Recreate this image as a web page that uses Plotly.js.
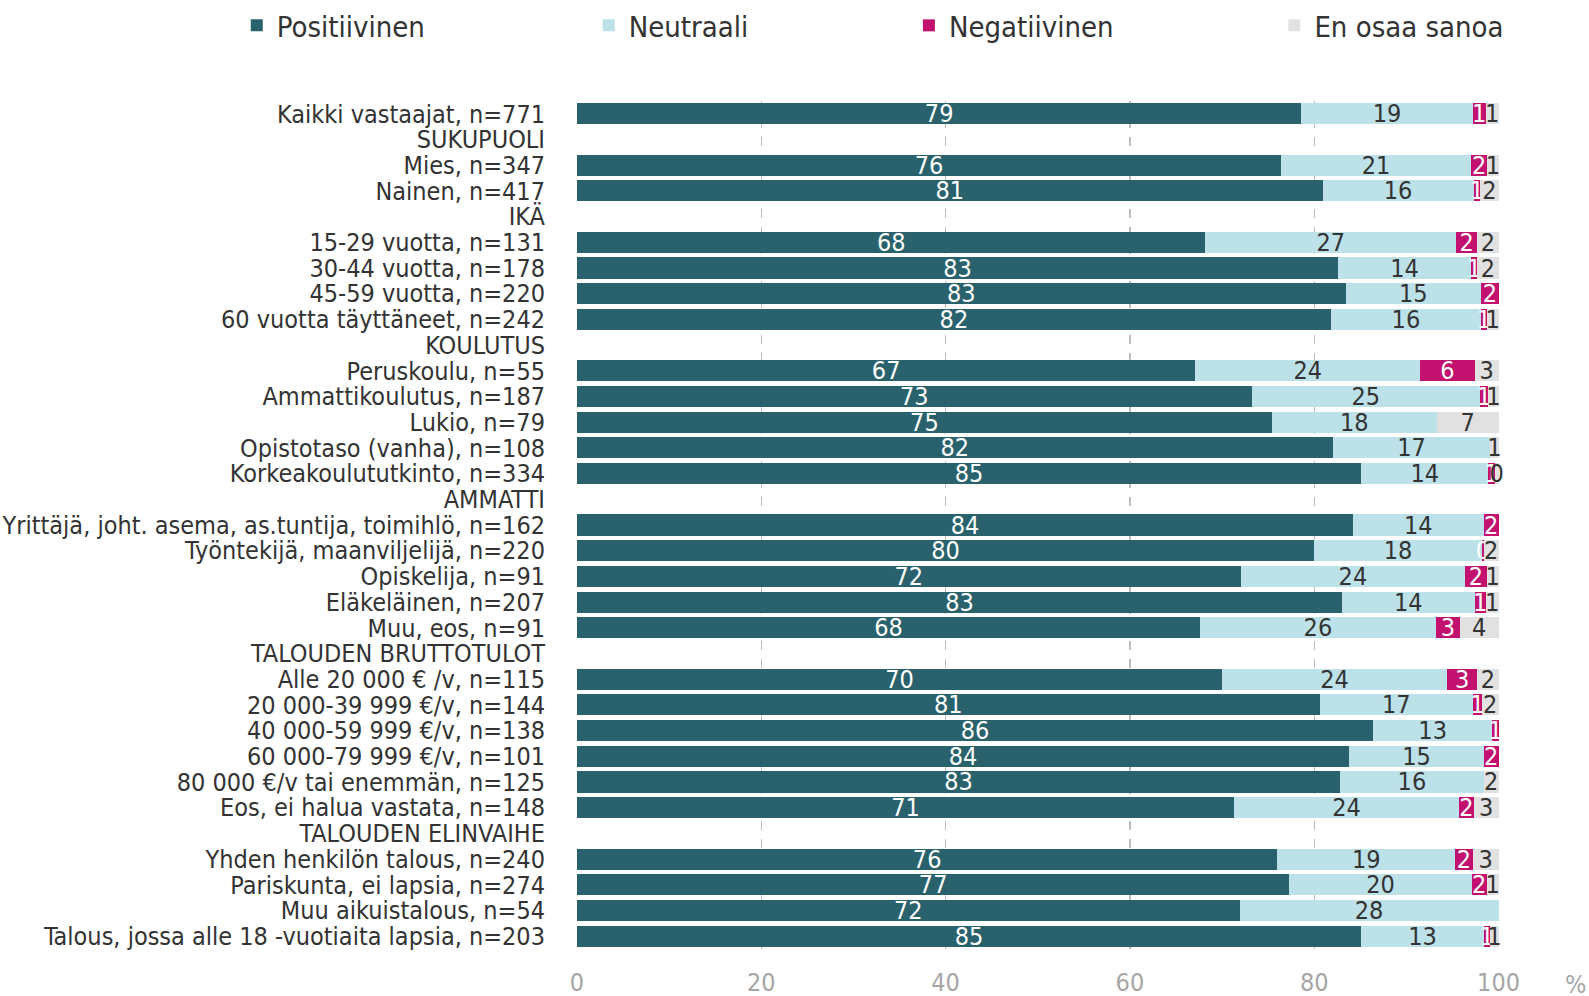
<!DOCTYPE html>
<html>
<head>
<meta charset="utf-8">
<script src="https://cdn.plot.ly/plotly-3.0.1.min.js"></script>
<style>html,body{margin:0;padding:0;background:#fff;}#chart{width:1589px;height:996px;}</style>
</head>
<body>
<div id="chart"></div>
<script>
const categories = [
  "Kaikki vastaajat, n=771",
  "SUKUPUOLI",
  "Mies, n=347",
  "Nainen, n=417",
  "IKÄ",
  "15-29 vuotta, n=131",
  "30-44 vuotta, n=178",
  "45-59 vuotta, n=220",
  "60 vuotta täyttäneet, n=242",
  "KOULUTUS",
  "Peruskoulu, n=55",
  "Ammattikoulutus, n=187",
  "Lukio, n=79",
  "Opistotaso (vanha), n=108",
  "Korkeakoulututkinto, n=334",
  "AMMATTI",
  "Yrittäjä, joht. asema, as.tuntija, toimihlö, n=162",
  "Työntekijä, maanviljelijä, n=220",
  "Opiskelija, n=91",
  "Eläkeläinen, n=207",
  "Muu, eos, n=91",
  "TALOUDEN BRUTTOTULOT",
  "Alle 20 000 € /v, n=115",
  "20 000-39 999 €/v, n=144",
  "40 000-59 999 €/v, n=138",
  "60 000-79 999 €/v, n=101",
  "80 000 €/v tai enemmän, n=125",
  "Eos, ei halua vastata, n=148",
  "TALOUDEN ELINVAIHE",
  "Yhden henkilön talous, n=240",
  "Pariskunta, ei lapsia, n=274",
  "Muu aikuistalous, n=54",
  "Talous, jossa alle 18 -vuotiaita lapsia, n=203"
];

const positiivinen = [78.6, null, 76.4, 80.9, null, 68.2, 82.6, 83.4, 81.8, null, 67.1, 73.2, 75.4, 82.0, 85.1, null, 84.2, 80.0, 72.0, 83.0, 67.6, null, 70.0, 80.6, 86.4, 83.8, 82.8, 71.3, null, 76.0, 77.3, 71.9, 85.1];
const neutraali    = [18.6, null, 20.6, 16.4, null, 27.2, 14.4, 14.7, 16.3, null, 24.4, 24.8, 17.9, 17.1, 13.8, null, 14.2, 18.2, 24.4, 14.4, 25.6, null, 24.4, 16.6, 12.9, 14.6, 15.6, 24.4, null, 19.3, 19.8, 28.1, 13.3];
const negatiivinen = [1.4, null, 1.8, 0.7, null, 2.3, 0.7, 1.9, 0.6, null, 5.9, 0.9, 0, 0, 0.7, null, 1.6, 0.2, 2.3, 1.2, 2.6, null, 3.3, 1.0, 0.7, 1.6, 0, 1.6, null, 1.9, 1.6, 0, 0.7];
const enOsaa       = [1.4, null, 1.2, 2.0, null, 2.3, 2.3, 0, 1.3, null, 2.6, 1.1, 6.7, 0.9, 0.4, null, 0, 1.6, 1.3, 1.4, 4.2, null, 2.3, 1.8, 0, 0, 1.6, 2.7, null, 2.8, 1.3, 0, 0.9];

const seriesNames = ["Positiivinen", "Neutraali", "Negatiivinen", "En osaa sanoa"];
const xTicks = [0, 20, 40, 60, 80, 100];

const colors = ["#29626d", "#bde1e9", "#c2116f", "#e1e1e1"];
const textColors = ["#ffffff", "#333333", "#ffffff", "#333333"];
const FONT = "'Liberation Sans Narrow', 'DejaVu Sans Condensed', 'Noto Sans', sans-serif";
const legendIds = ["legend", "legend2", "legend3", "legend4"];
const legendX = [0.1490, 0.3705, 0.5720, 0.8020];

function labels(arr) {
  return arr.map(v => (v === null || v === 0) ? "" : String(Math.round(v)));
}

const seriesData = [positiivinen, neutraali, negatiivinen, enOsaa];
const traces = seriesData.map((vals, i) => ({
  type: "bar",
  orientation: "h",
  name: seriesNames[i],
  legend: legendIds[i],
  showlegend: true,
  y: categories,
  x: vals,
  text: labels(vals),
  texttemplate: "%{text}",
  textposition: "inside",
  insidetextanchor: "middle",
  constraintext: "none",
  textangle: 0,
  insidetextfont: {family: FONT, size: 25, color: textColors[i]},
  marker: {color: colors[i], line: {width: 0}},
  hoverinfo: "skip",
  cliponaxis: false
}));

const layout = {
  width: 1589,
  height: 996,
  barmode: "stack",
  bargap: 0.18,
  paper_bgcolor: "#ffffff",
  plot_bgcolor: "#ffffff",
  margin: {l: 577, r: 90, t: 101, b: 47},
  font: {family: FONT, color: "#333333"},
  showlegend: true,
  xaxis: {
    range: [0, 100.05],
    tickvals: xTicks,
    ticktext: xTicks.map(String),
    showgrid: true,
    gridcolor: "#bdbdbd",
    griddash: "dash",
    gridwidth: 1.2,
    zeroline: false,
    showline: false,
    tickfont: {family: FONT, size: 25, color: "#a6a6a6"},
    ticks: "outside",
    ticklen: 11,
    tickcolor: "rgba(0,0,0,0)",
    fixedrange: true
  },
  yaxis: {
    type: "category",
    autorange: "reversed",
    tickmode: "array",
    tickvals: categories,
    ticktext: categories,
    showgrid: false,
    zeroline: false,
    showline: false,
    ticks: "outside",
    ticklen: 26,
    tickcolor: "rgba(0,0,0,0)",
    tickfont: {family: FONT, size: 25, color: "#333333"},
    fixedrange: true
  },
  annotations: [{
    text: "%",
    xref: "paper",
    yref: "paper",
    x: 1.083,
    y: -0.042,
    xanchor: "center",
    yanchor: "middle",
    showarrow: false,
    font: {family: FONT, size: 25, color: "#a6a6a6"}
  }],
  hovermode: false
};

legendIds.forEach((id, i) => {
  layout[id] = {
    orientation: "h",
    xref: "container",
    yref: "container",
    x: legendX[i],
    y: 1,
    xanchor: "left",
    yanchor: "top",
    bgcolor: "rgba(0,0,0,0)",
    font: {family: FONT, size: 29, color: "#333333"},
    itemsizing: "constant"
  };
});

Plotly.newPlot("chart", traces, layout, {displayModeBar: false, staticPlot: true});
</script>
</body>
</html>
